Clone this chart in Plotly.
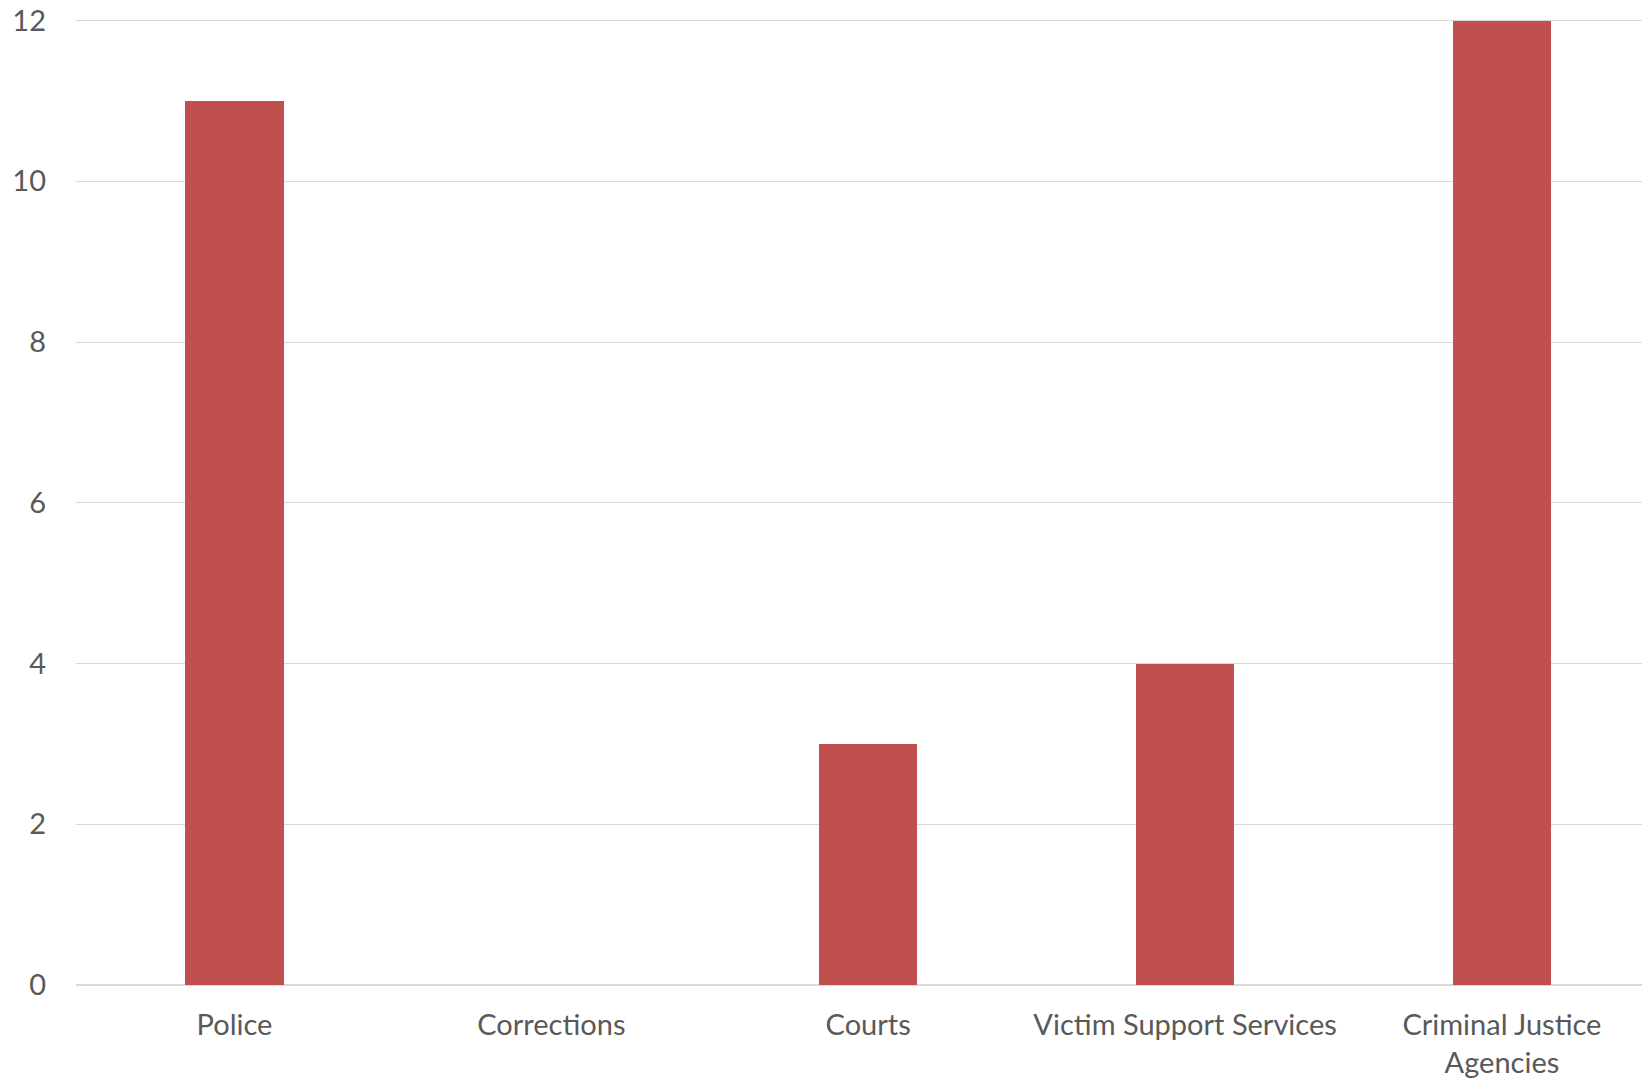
import plotly.graph_objects as go

categories = ["Police", "Corrections", "Courts", "Victim Support Services", "Criminal Justice<br>Agencies"]
values = [11, 0, 3, 4, 12]
y_ticks = [0, 2, 4, 6, 8, 10, 12]

fig = go.Figure()
fig.add_trace(go.Bar(x=categories, y=values, marker=dict(color="#C0504D", line=dict(width=0)), width=0.31))

font_family = "Lato, 'Open Sans', sans-serif"
fig.update_layout(
    width=1642, height=1082,
    margin=dict(l=76, r=0, t=19, b=97),
    paper_bgcolor="white", plot_bgcolor="white",
    showlegend=False,
    font=dict(family=font_family, size=29, color="#595959"),
    bargap=0,
)
fig.update_xaxes(
    range=[-0.5, 4.442], showgrid=False, showline=False, ticks="",
    tickfont=dict(size=29, color="#595959"), ticklabelstandoff=20,
)
fig.update_yaxes(
    range=[0, 12.02], tickvals=y_ticks, showgrid=True, gridcolor="#D9D9D9", gridwidth=1.3,
    zeroline=True, zerolinecolor="#D9D9D9", zerolinewidth=1.5, showline=False, ticks="",
    tickfont=dict(size=29, color="#595959"), ticklabelstandoff=29,
)

fig.write_html(
    "out.html",
    config={"displayModeBar": False},
    post_script="document.body.style.margin='0';document.body.style.overflow='hidden';",
)
